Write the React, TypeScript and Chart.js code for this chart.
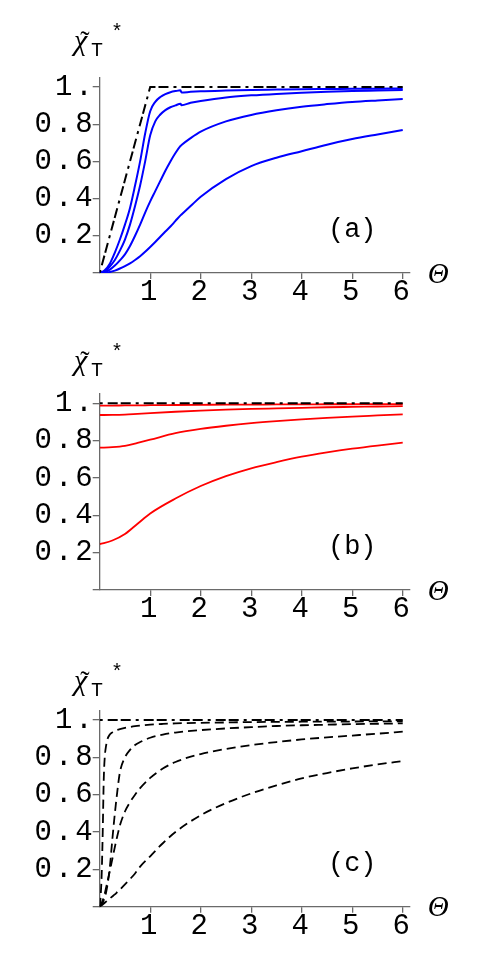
import React, { useEffect, useRef } from 'react';
import Chart from 'chart.js/auto';

// shared axis ticks
const xTicks = [1, 2, 3, 4, 5, 6];
const xTickLabels = ['1', '2', '3', '4', '5', '6'];
const yTicks = [0, 0.2, 0.4, 0.6, 0.8, 1];
const yTickLabels = ['', '0.2', '0.4', '0.6', '0.8', '1.'];
const panelTags = ['(a)', '(b)', '(c)'];

// reference (dash-dot) lines
const guideThetaA = [0, 1, 6];
const guideA = [0, 1, 1];
const guideThetaBC = [0, 6];
const guideBC = [1, 1];

// panel (a): blue curves
const thetaA = [0, 0.1, 0.2, 0.3, 0.4, 0.5, 0.6, 0.7, 0.8, 0.9, 1.0, 1.1, 1.2, 1.3, 1.4, 1.5, 1.6, 1.62, 1.8, 2, 2.5, 3, 3.5, 4, 4.5, 5, 5.5, 6];
const blueA1 = [0, 0.015, 0.05, 0.11, 0.18, 0.26, 0.35, 0.47, 0.6, 0.75, 0.87, 0.92, 0.946, 0.962, 0.972, 0.978, 0.982, 0.97, 0.974, 0.977, 0.981, 0.984, 0.986, 0.988, 0.989, 0.99, 0.991, 0.992];
const blueA2 = [0, 0.01, 0.035, 0.07, 0.12, 0.18, 0.26, 0.36, 0.47, 0.6, 0.74, 0.815, 0.852, 0.876, 0.891, 0.901, 0.91, 0.902, 0.915, 0.925, 0.944, 0.955, 0.963, 0.969, 0.974, 0.978, 0.981, 0.984];
const blueA3 = [0, 0.005, 0.018, 0.04, 0.068, 0.1, 0.145, 0.2, 0.26, 0.325, 0.385, 0.44, 0.495, 0.55, 0.6, 0.645, 0.683, 0.688, 0.725, 0.76, 0.815, 0.85, 0.875, 0.894, 0.908, 0.92, 0.928, 0.935];
const blueA4 = [0, 0.001, 0.005, 0.013, 0.024, 0.037, 0.052, 0.07, 0.09, 0.114, 0.14, 0.167, 0.195, 0.223, 0.25, 0.28, 0.31, 0.315, 0.36, 0.41, 0.505, 0.575, 0.62, 0.655, 0.69, 0.72, 0.745, 0.769];

// panel (b): red curves
const thetaB = [0, 0.25, 0.5, 0.75, 1, 1.5, 2, 2.5, 3, 3.5, 4, 4.5, 5, 5.5, 6];
const redB1 = [0.988, 0.988, 0.989, 0.989, 0.99, 0.991, 0.992, 0.993, 0.993, 0.994, 0.994, 0.995, 0.995, 0.996, 0.996];
const redB2 = [0.9375, 0.938, 0.94, 0.944, 0.948, 0.955, 0.961, 0.966, 0.97, 0.973, 0.976, 0.979, 0.981, 0.983, 0.985];
const redB3 = [0.7625, 0.765, 0.772, 0.788, 0.805, 0.84, 0.863, 0.88, 0.894, 0.905, 0.914, 0.922, 0.929, 0.935, 0.941];
const redB4 = [0.246, 0.265, 0.3, 0.355, 0.41, 0.49, 0.557, 0.61, 0.652, 0.685, 0.714, 0.737, 0.757, 0.774, 0.789];

// panel (c): black dashed curves
const thetaC = [0, 0.02, 0.04, 0.06, 0.08, 0.1, 0.125, 0.15, 0.2, 0.25, 0.3, 0.35, 0.4, 0.5, 0.6, 0.7, 0.8, 1, 1.25, 1.5, 2, 2.5, 3, 3.5, 4, 4.5, 5, 5.5, 6];
const dashC1 = [0, 0.06, 0.18, 0.4, 0.68, 0.8, 0.86, 0.895, 0.922, 0.934, 0.942, 0.947, 0.951, 0.958, 0.963, 0.967, 0.97, 0.975, 0.979, 0.982, 0.985, 0.987, 0.989, 0.99, 0.991, 0.992, 0.992, 0.993, 0.993];
const dashC2 = [0, 0.005, 0.012, 0.02, 0.035, 0.05, 0.075, 0.11, 0.21, 0.36, 0.5, 0.62, 0.72, 0.8, 0.84, 0.866, 0.882, 0.905, 0.922, 0.933, 0.946, 0.955, 0.962, 0.968, 0.972, 0.975, 0.978, 0.98, 0.982];
const dashC3 = [0, 0.01, 0.02, 0.035, 0.05, 0.07, 0.1, 0.13, 0.19, 0.255, 0.32, 0.38, 0.435, 0.51, 0.56, 0.6, 0.635, 0.69, 0.74, 0.775, 0.818, 0.845, 0.866, 0.882, 0.896, 0.907, 0.917, 0.927, 0.9375];
const dashC4 = [0, 0.004, 0.008, 0.012, 0.017, 0.021, 0.027, 0.032, 0.044, 0.055, 0.066, 0.079, 0.092, 0.12, 0.148, 0.178, 0.215, 0.27, 0.34, 0.4, 0.49, 0.555, 0.607, 0.65, 0.6875, 0.716, 0.741, 0.762, 0.78];

const pts = (xs: number[], ys: number[]) => xs.map((x, i) => ({ x, y: ys[i] }));

const AXIS_COLOR = '#6a6a6a';
const TICK_FONT = { family: '"Liberation Mono", monospace', size: 29, lineHeight: 1 };

const guide = (xs: number[], ys: number[]) => ({
  data: pts(xs, ys),
  borderColor: '#000',
  borderWidth: 2,
  borderDash: [3, 5, 10, 3, 10, 5],
  pointRadius: 0,
  tension: 0,
});

const curve = (xs: number[], ys: number[], color: string, width: number, dash: number[] = []) => ({
  data: pts(xs, ys),
  borderColor: color,
  borderWidth: width,
  borderDash: dash,
  pointRadius: 0,
  cubicInterpolationMode: 'monotone' as const,
});

const panelTextPlugin = {
  id: 'panelText',
  beforeDraw(chart: any) {
    chart.ctx.letterSpacing = '3px';
  },
  afterDraw(chart: any, _args: any, opts: any) {
    const { ctx } = chart;
    const xs = chart.scales.x;
    const ys = chart.scales.y;
    ctx.save();
    ctx.letterSpacing = '0px';
    ctx.fillStyle = '#000';
    ctx.textAlign = 'left';
    ctx.textBaseline = 'alphabetic';
    // axis title: chi tilde, subscript T, superscript star
    ctx.font = 'italic 30px "Liberation Serif"';
    ctx.fillText('χ', 74, 50);
    ctx.textAlign = 'center';
    ctx.font = '28px "Liberation Serif"';
    ctx.fillText('˜', 85, 50);
    ctx.textAlign = 'left';
    ctx.font = '20px "Liberation Mono"';
    ctx.fillText('T', 91, 56);
    ctx.fillText('*', 111, 38);
    // theta
    ctx.textAlign = 'center';
    ctx.textBaseline = 'middle';
    ctx.font = 'italic 29px "Liberation Serif"';
    ctx.fillText('Θ', xs.right + 29, ys.getPixelForValue(0) + 2);
    // panel tag
    ctx.font = '27px "Liberation Mono"';
    ctx.fillText(opts.tag, xs.getPixelForValue(5), ys.getPixelForValue(0.23));
    ctx.restore();
  },
};

interface PanelProps {
  top: number;
  height: number;
  plotTop: number;
  plotBottom: number;
  tag: string;
  datasets: any[];
}

const Panel: React.FC<PanelProps> = ({ top, height, plotTop, plotBottom, tag, datasets }) => {
  const canvasRef = useRef<HTMLCanvasElement>(null);

  useEffect(() => {
    const ctx = canvasRef.current?.getContext('2d');
    if (!ctx) return;
    const chart = new Chart(ctx, {
      type: 'line',
      data: { datasets },
      plugins: [panelTextPlugin],
      options: {
        animation: false,
        responsive: false,
        events: [],
        layout: { padding: { left: 0, right: 79.7, top: plotTop, bottom: 0 } },
        plugins: {
          legend: { display: false },
          tooltip: { enabled: false },
          panelText: { tag },
        } as any,
        scales: {
          x: {
            type: 'linear',
            min: 0,
            max: 6.13,
            afterBuildTicks: (s: any) => {
              s.ticks = xTicks.map((v) => ({ value: v }));
            },
            afterFit: (s: any) => {
              s.height = height - plotBottom;
            },
            ticks: {
              autoSkip: false,
              maxRotation: 0,
              padding: -1,
              color: '#000',
              font: TICK_FONT,
              callback: (_v: any, i: number) => xTickLabels[i],
            },
            grid: { drawOnChartArea: false, drawTicks: true, tickLength: 6, color: AXIS_COLOR, lineWidth: 1.3 },
            border: { display: true, color: AXIS_COLOR, width: 1.3 },
          },
          y: {
            type: 'linear',
            min: 0,
            max: 1.05,
            afterBuildTicks: (s: any) => {
              s.ticks = yTicks.map((v) => ({ value: v }));
            },
            afterFit: (s: any) => {
              s.width = 99.7;
            },
            ticks: {
              autoSkip: false,
              padding: -3,
              color: '#000',
              font: TICK_FONT,
              callback: (_v: any, i: number) => yTickLabels[i],
            },
            grid: { drawOnChartArea: false, drawTicks: true, tickLength: 7, color: AXIS_COLOR, lineWidth: 1.3 },
            border: { display: true, color: AXIS_COLOR, width: 1.3 },
          },
        },
      },
    } as any);
    return () => chart.destroy();
  }, [top, height, plotTop, plotBottom, tag, datasets]);

  return (
    <canvas
      ref={canvasRef}
      width={489}
      height={height}
      style={{ position: 'absolute', left: 0, top, display: 'block' }}
    />
  );
};

const datasetsA = [
  guide(guideThetaA, guideA),
  curve(thetaA, blueA1, '#0000ff', 2),
  curve(thetaA, blueA2, '#0000ff', 2),
  curve(thetaA, blueA3, '#0000ff', 2),
  curve(thetaA, blueA4, '#0000ff', 2),
];

const datasetsB = [
  guide(guideThetaBC, guideBC),
  curve(thetaB, redB1, '#ff0000', 1.8),
  curve(thetaB, redB2, '#ff0000', 1.8),
  curve(thetaB, redB3, '#ff0000', 1.8),
  curve(thetaB, redB4, '#ff0000', 1.8),
];

const datasetsC = [
  guide(guideThetaBC, guideBC),
  curve(thetaC, dashC1, '#000', 1.8, [9, 5]),
  curve(thetaC, dashC2, '#000', 1.8, [9, 5]),
  curve(thetaC, dashC3, '#000', 1.8, [9, 5]),
  curve(thetaC, dashC4, '#000', 1.8, [9, 5]),
];

export default function App() {
  return (
    <div style={{ position: 'absolute', left: 0, top: 0, width: 489, height: 967, background: '#fff' }}>
      <Panel top={0} height={320} plotTop={77.7} plotBottom={273} tag={panelTags[0]} datasets={datasetsA} />
      <Panel top={320} height={320} plotTop={74} plotBottom={270} tag={panelTags[1]} datasets={datasetsB} />
      <Panel top={640} height={327} plotTop={70.7} plotBottom={266.7} tag={panelTags[2]} datasets={datasetsC} />
    </div>
  );
}
